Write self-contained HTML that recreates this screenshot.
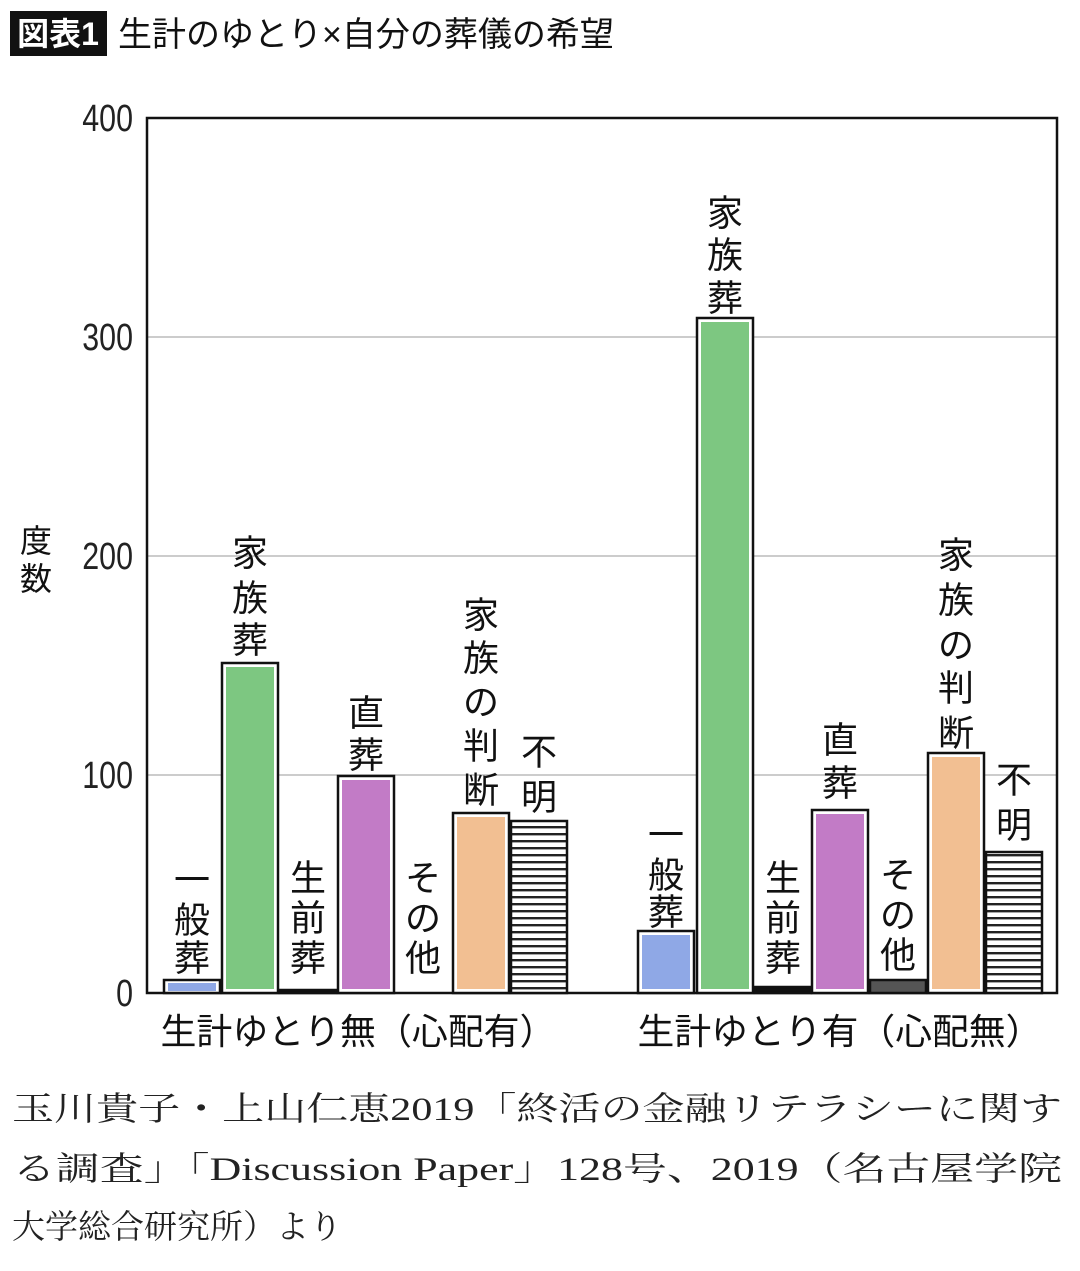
<!DOCTYPE html>
<html><head><meta charset="utf-8"><style>
body{margin:0;background:#fff;}
svg{display:block;}
.j{font-family:"Liberation Sans","Noto Sans CJK JP",sans-serif;}
.s{font-family:"Liberation Serif","Noto Serif CJK SC",serif;}
</style></head><body>
<svg width="1080" height="1271" viewBox="0 0 1080 1271" xmlns="http://www.w3.org/2000/svg">
<defs>
<pattern id="h" width="8" height="7" patternUnits="userSpaceOnUse">
<rect width="8" height="7" fill="#fff"/><rect y="0" width="8" height="2.4" fill="#222"/>
</pattern>
</defs>
<rect x="10" y="11" width="97" height="45" fill="#111"/>
<text x="58" y="45" class="j" font-size="32" fill="#fff" text-anchor="middle" font-weight="bold">図表1</text>
<text x="118" y="46" class="j" font-size="34" fill="#111">生計のゆとり×自分の葬儀の希望</text>

<g stroke="#bbb" stroke-width="1.5">
<line x1="147" y1="337" x2="1057" y2="337"/>
<line x1="147" y1="556" x2="1057" y2="556"/>
<line x1="147" y1="775" x2="1057" y2="775"/>
</g>
<rect x="147" y="118" width="910" height="875" fill="none" stroke="#111" stroke-width="2.5"/>

<g class="j" font-size="38" fill="#222" text-anchor="end">
<text x="133" y="131" transform="translate(133,0) scale(0.8,1) translate(-133,0)">400</text>
<text x="133" y="350" transform="translate(133,0) scale(0.8,1) translate(-133,0)">300</text>
<text x="133" y="569" transform="translate(133,0) scale(0.8,1) translate(-133,0)">200</text>
<text x="133" y="788" transform="translate(133,0) scale(0.8,1) translate(-133,0)">100</text>
<text x="133" y="1006" transform="translate(133,0) scale(0.8,1) translate(-133,0)">0</text>
</g>
<g class="j" font-size="32" fill="#111" text-anchor="middle">
<text x="36" y="552">度</text><text x="36" y="590">数</text>
</g>

<g stroke="#111" stroke-width="2.5">
<rect x="164" y="980" width="56" height="13" fill="#fff"/>
<rect x="222" y="663" width="56" height="330" fill="#fff"/>
<rect x="338" y="776" width="56" height="217" fill="#fff"/>
<rect x="453" y="813" width="56" height="180" fill="#fff"/>
<rect x="511" y="821" width="56" height="172" fill="url(#h)"/>
<rect x="638" y="931" width="56" height="62" fill="#fff"/>
<rect x="697" y="318" width="56" height="675" fill="#fff"/>
<rect x="812" y="810" width="56" height="183" fill="#fff"/>
<rect x="870" y="980" width="56" height="13" fill="#555"/>
<rect x="928" y="753" width="56" height="240" fill="#fff"/>
<rect x="986" y="852" width="56" height="141" fill="url(#h)"/>
<rect x="755" y="987" width="56" height="6" fill="#111"/>
<rect x="280" y="990" width="56" height="3" fill="#111"/>
</g>
<g stroke="none">
<rect x="168" y="983" width="48" height="8" fill="#8fa8e6"/>
<rect x="226" y="667" width="48" height="322" fill="#7dc781"/>
<rect x="342" y="780" width="48" height="209" fill="#c27bc6"/>
<rect x="457" y="817" width="48" height="172" fill="#f2bf92"/>
<rect x="642" y="935" width="48" height="54" fill="#8fa8e6"/>
<rect x="701" y="322" width="48" height="667" fill="#7dc781"/>
<rect x="816" y="814" width="48" height="175" fill="#c27bc6"/>
<rect x="932" y="757" width="48" height="232" fill="#f2bf92"/>
</g>

<g class="j" font-size="36" fill="#111" text-anchor="middle" dominant-baseline="central">
<text x="192" y="880">一</text><text x="192" y="920">般</text><text x="192" y="958">葬</text>
<text x="250" y="553">家</text><text x="250" y="598">族</text><text x="250" y="640">葬</text>
<text x="308" y="878">生</text><text x="308" y="918">前</text><text x="308" y="958">葬</text>
<text x="366" y="713">直</text><text x="366" y="755">葬</text>
<text x="423" y="878">そ</text><text x="423" y="918">の</text><text x="423" y="958">他</text>
<text x="481" y="615">家</text><text x="481" y="658">族</text><text x="481" y="702">の</text><text x="481" y="746">判</text><text x="481" y="790">断</text>
<text x="539" y="752">不</text><text x="539" y="797">明</text>
<text x="666" y="835">一</text><text x="666" y="875">般</text><text x="666" y="912">葬</text>
<text x="725" y="213">家</text><text x="725" y="255">族</text><text x="725" y="298">葬</text>
<text x="783" y="878">生</text><text x="783" y="918">前</text><text x="783" y="958">葬</text>
<text x="840" y="740">直</text><text x="840" y="783">葬</text>
<text x="898" y="875">そ</text><text x="898" y="915">の</text><text x="898" y="955">他</text>
<text x="956" y="555">家</text><text x="956" y="600">族</text><text x="956" y="645">の</text><text x="956" y="688">判</text><text x="956" y="733">断</text>
<text x="1014" y="780">不</text><text x="1014" y="825">明</text>
</g>

<g class="j" font-size="36" fill="#111" text-anchor="middle">
<text x="358" y="1044" textLength="395" lengthAdjust="spacingAndGlyphs">生計ゆとり無（心配有）</text>
<text x="840" y="1044" textLength="405" lengthAdjust="spacingAndGlyphs">生計ゆとり有（心配無）</text>
</g>

<g class="s" font-size="33" fill="#222">
<text x="12" y="1120" textLength="1050" lengthAdjust="spacingAndGlyphs">玉川貴子・上山仁恵2019「終活の金融リテラシーに関す</text>
<text x="12" y="1180" textLength="1050" lengthAdjust="spacingAndGlyphs">る調査」「Discussion Paper」128号、2019（名古屋学院</text>
<text x="12" y="1238">大学総合研究所）より</text>
</g>
</svg>
</body></html>
